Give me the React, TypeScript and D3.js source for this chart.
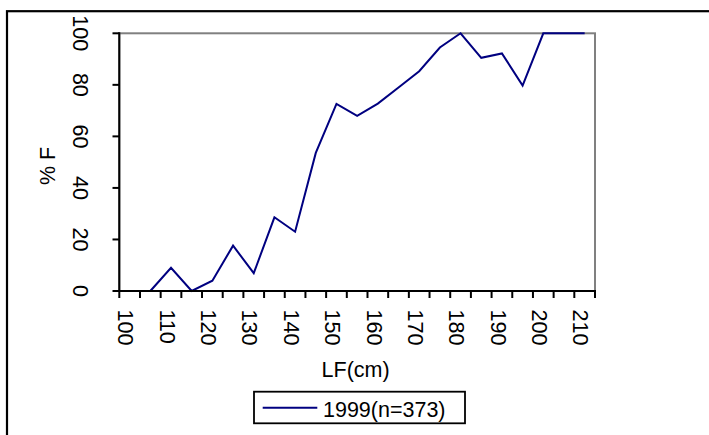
import React from "react";
import * as d3 from "d3";

// ---- data ----
const categories: number[] = [100, 105, 110, 115, 120, 125, 130, 135, 140, 145, 150, 155, 160, 165, 170, 175, 180, 185, 190, 195, 200, 205, 210];
const percentF: (number | null)[] = [null, 0, 9, 0, 4, 17.6, 6.9, 28.6, 23, 53.6, 72.6, 68, 72.7, 79, 85.3, 94.5, 100, 90.5, 92.2, 79.7, 100, 100, 100];
const xTickLabels: number[] = [100, 110, 120, 130, 140, 150, 160, 170, 180, 190, 200, 210];
const yTicks: number[] = [0, 20, 40, 60, 80, 100];
const seriesName = "1999(n=373)";
const xTitle = "LF(cm)";
const yTitle = "% F";

const W = 709;
const H = 435;
const FONT = "'Liberation Sans', Arial, Helvetica, sans-serif";
const FS = 21.5;

export default function App() {
  const left = 119.3, right = 595, top = 33.3, bottom = 291;
  const x = d3.scaleBand<number>().domain(categories).range([left, right]).padding(0);
  const y = d3.scaleLinear().domain([0, 100]).range([bottom, top]);
  const cx = (c: number) => (x(c) as number) + x.bandwidth() / 2;

  const pts = categories.map((c, i) => ({ c, v: percentF[i] }));
  const line = d3
    .line<{ c: number; v: number | null }>()
    .defined((d) => d.v !== null)
    .x((d) => cx(d.c))
    .y((d) => y(d.v as number));

  const boundaries = d3.range(categories.length + 1).map((i) => left + i * x.bandwidth());

  return (
    <svg width={W} height={H} style={{ position: "absolute", left: 0, top: 0, background: "#fff" }} fontFamily={FONT}>
      {/* outer chart border */}
      <rect x={7} y={11.2} width={W + 20} height={H + 20} fill="#fff" stroke="#000" strokeWidth={2.2} />
      {/* plot area */}
      <rect x={left} y={top} width={right - left} height={bottom - top} fill="#fff" stroke="#808080" strokeWidth={2} />
      {/* series line */}
      <path d={line(pts) || ""} fill="none" stroke="#000080" strokeWidth={2} strokeLinejoin="miter" />
      {/* y axis */}
      <line x1={left} x2={left} y1={top - 1} y2={bottom + 1} stroke="#000" strokeWidth={2} />
      {yTicks.map((t) => (
        <g key={"yt" + t}>
          <line x1={left - 6.8} x2={left} y1={y(t)} y2={y(t)} stroke="#000" strokeWidth={2} />
          <text
            transform={`translate(${72.7},${y(t)}) rotate(90)`}
            textAnchor="middle"
            fontSize={FS}
            fill="#000"
          >
            {t}
          </text>
        </g>
      ))}
      {/* x axis */}
      <line x1={left - 1} x2={right + 1} y1={bottom} y2={bottom} stroke="#000" strokeWidth={2} />
      {boundaries.map((bx, i) => (
        <line key={"xt" + i} x1={bx} x2={bx} y1={bottom} y2={bottom + 7} stroke="#000" strokeWidth={2} />
      ))}
      {xTickLabels.map((t) => (
        <text
          key={"xl" + t}
          transform={`translate(${cx(t) - 11.3},${309.5}) rotate(90)`}
          textAnchor="start"
          fontSize={FS}
          fill="#000"
        >
          {t}
        </text>
      ))}
      {/* axis titles */}
      <text x={(left + right) / 2 - 1.5} y={377.3} textAnchor="middle" fontSize={FS} fill="#000">
        {xTitle}
      </text>
      <text transform={`translate(${55},${166}) rotate(-90)`} textAnchor="middle" fontSize={FS} fill="#000">
        {yTitle}
      </text>
      {/* legend */}
      <rect x={254} y={391.7} width={211} height={31.6} fill="#fff" stroke="#000" strokeWidth={1.8} />
      <line x1={262.7} x2={317.3} y1={407.7} y2={407.7} stroke="#000080" strokeWidth={2} />
      <text x={323} y={417.3} fontSize={FS} fill="#000">
        {seriesName}
      </text>
    </svg>
  );
}
